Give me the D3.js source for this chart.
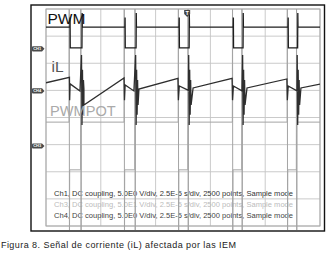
<!DOCTYPE html>
<html>
<head>
<meta charset="utf-8">
<script src="https://cdn.jsdelivr.net/npm/d3@7"></script>
<style>
  body { margin: 0; background: #fff; }
  svg { display: block; font-family: "Liberation Sans", Arial, sans-serif; }
  svg text { -webkit-font-smoothing: antialiased; }
</style>
</head>
<body>
<div id="chart"></div>
<script>
// time in microseconds (2.5E-5 s/div, 5 divisions on screen)
const timeTicks = [0, 25, 50, 75, 100, 125];
// vertical divisions from screen centre
const divTicks = [-4, -3, -2, -1, 0, 1, 2, 3, 4];

// channel: marker label, ground offset (div), volts per division
const chLabels = ["CH1", "CH4", "CH3"];
const chOffsets = [2.53, 0.98, -1.05];
const chVdiv = [5, 5, 50];

// Ch1 - PWM gate signal
const pwmFallT = [10.9, 36.0, 60.7, 85.4, 110.4];
const pwmRiseT = [16.4, 41.1, 65.3, 89.9, 114.8];
const pwmLevels = [0.2, 4.0];          // low, high (V)
const pwmOvershoot = [5.8, 6.6];       // at falling, rising edge (V)

// Ch3 - PWMPOT edges (slightly ahead of Ch1)
const potFallT = [10.5, 35.6, 60.3, 85.0, 110.0];
const potRiseT = [15.8, 40.5, 64.7, 89.3, 114.2];
const potLevels = [-44, 44];
const potSpikes = [300, -200];

// Ch4 - inductor current iL (V on probe)
const iLPoints = [
  [0, 1.5], [10.7, 2.5], [10.8, -1.7], [11.0, 1.3], [15.5, 0.0],
  [17.3, 0.35], [35.6, 2.4], [35.8, -1.7], [36.1, 1.1], [40.1, 0.0],
  [42.4, 0.35], [60.2, 2.3], [60.4, -1.7], [60.8, 0.9], [65.0, 0.1],
  [67.1, 0.55], [84.9, 2.3], [85.1, -1.7], [85.5, 0.9], [89.4, 0.0],
  [91.7, 0.55], [109.9, 2.2], [110.1, -1.7], [110.5, 0.9], [114.5, 0.0],
  [116.3, 0.55], [125, 1.25]
];
const iLRing = [6.6, -6.3, 3.9, -4.4, 2.0, -2.6]; // ringing after each turn-on (V)

const legendLines = [
  "Ch1, DC coupling, 5.0E0 V/div, 2.5E-5 s/div, 2500 points, Sample mode",
  "Ch3, DC coupling, 5.0E1 V/div, 2.5E-5 s/div, 2500 points, Sample mode",
  "Ch4, DC coupling, 5.0E0 V/div, 2.5E-5 s/div, 2500 points, Sample mode"
];
const legendColors = ["#333", "#bbb", "#444"];
const caption = "Figura 8. Señal de corriente (iL) afectada por las IEM";

const W = 332, H = 253;
const frame = { x0: 31, y0: 5, x1: 324.5, y1: 231 };
const plot = { x0: 46, y0: 9, x1: 320, y1: 226 };

const svg = d3.select("#chart").append("svg")
  .attr("width", W).attr("height", H)
  .attr("viewBox", `0 0 ${W} ${H}`);

const x = d3.scaleLinear().domain([0, 125]).range([plot.x0, plot.x1]);
const y = d3.scaleLinear().domain([-4, 4]).range([plot.y1, plot.y0]);

// volts on a channel -> screen y
const yv = (ch, v) => y(chOffsets[ch] + v / chVdiv[ch]);

// outer frame
svg.append("rect")
  .attr("x", frame.x0).attr("y", frame.y0)
  .attr("width", frame.x1 - frame.x0).attr("height", frame.y1 - frame.y0)
  .attr("fill", "#fff").attr("stroke", "#111").attr("stroke-width", 1.4);

// grid
const grid = svg.append("g").attr("stroke", "#c4c4c4").attr("stroke-width", 0.9);
grid.selectAll(".vx").data(timeTicks).enter().append("line")
  .attr("x1", d => x(d)).attr("x2", d => x(d))
  .attr("y1", plot.y0).attr("y2", plot.y1);
grid.selectAll(".hy").data(divTicks).enter().append("line")
  .attr("x1", plot.x0).attr("x2", plot.x1)
  .attr("y1", d => y(d)).attr("y2", d => y(d));
svg.append("rect")
  .attr("x", plot.x0).attr("y", plot.y0)
  .attr("width", plot.x1 - plot.x0).attr("height", plot.y1 - plot.y0)
  .attr("fill", "none").attr("stroke", "#a8a8a8").attr("stroke-width", 1);

// legend text inside the screen
svg.append("g").selectAll("text").data(legendLines).enter().append("text")
  .attr("x", 54).attr("y", (d, i) => [196, 207, 218][i])
  .attr("font-size", 7.6)
  .attr("textLength", 239).attr("lengthAdjust", "spacingAndGlyphs")
  .attr("fill", (d, i) => legendColors[i])
  .text(d => d);

// clipping
const defs = svg.append("defs");
defs.append("clipPath").attr("id", "clipA").append("rect")
  .attr("x", plot.x0).attr("y", plot.y0)
  .attr("width", plot.x1 - plot.x0).attr("height", plot.y1 - plot.y0);
defs.append("clipPath").attr("id", "clipB").append("rect")
  .attr("x", plot.x0).attr("y", plot.y0)
  .attr("width", plot.x1 - plot.x0).attr("height", frame.y1 - 1 - plot.y0);

// square wave with an edge spike (or spike pair) at every switching edge
function squareTrace(fallT, riseT, levels, fallPeaks, risePeaks, dt) {
  const pts = [[0, levels[1]]];
  fallT.forEach((tf, i) => {
    const tr = riseT[i];
    pts.push([tf, levels[1]]);
    fallPeaks.forEach((p, k) => pts.push([tf + (k + 1) * dt, p]));
    pts.push([tf + (fallPeaks.length + 1) * dt, levels[0]]);
    pts.push([tr, levels[0]]);
    risePeaks.forEach((p, k) => pts.push([tr + (k + 1) * dt, p]));
    pts.push([tr + (risePeaks.length + 1) * dt, levels[1]]);
  });
  pts.push([125, levels[1]]);
  return pts;
}

const pwmPts = squareTrace(pwmFallT, pwmRiseT, pwmLevels,
  [pwmOvershoot[0]], [pwmOvershoot[1]], 0.08);
const potPts = squareTrace(potFallT, potRiseT, potLevels, potSpikes, potSpikes, 0.1);

const iLPts = iLPoints.slice();
pwmRiseT.forEach(tr => {
  iLRing.forEach((v, k) => iLPts.push([tr - 0.2 + k * 0.22, v]));
});
iLPts.sort((a, b) => a[0] - b[0]);

const line = ch => d3.line().x(d => x(d[0])).y(d => yv(ch, d[1]));

// Ch3 PWMPOT (light grey)
svg.append("path")
  .datum(potPts)
  .attr("clip-path", "url(#clipB)")
  .attr("d", line(2))
  .attr("fill", "none").attr("stroke", "#a4a4a4").attr("stroke-width", 1);

// Ch4 iL
svg.append("path")
  .datum(iLPts)
  .attr("clip-path", "url(#clipA)")
  .attr("d", line(1))
  .attr("fill", "none").attr("stroke", "#2e2e2e").attr("stroke-width", 1.3);

// Ch1 PWM
svg.append("path")
  .datum(pwmPts)
  .attr("clip-path", "url(#clipA)")
  .attr("d", line(0))
  .attr("fill", "none").attr("stroke", "#1e1e1e").attr("stroke-width", 1.3);

// channel ground markers
const markers = svg.append("g").selectAll("g").data(chLabels).enter().append("g")
  .attr("transform", (d, i) => `translate(32,${yv(i, 0)})`);
markers.append("path")
  .attr("d", "M1,-2.6 H10 L12.5,0 L10,2.6 H1 Q0,2.6 0,1.6 V-1.6 Q0,-2.6 1,-2.6 Z")
  .attr("fill", "#4a4a4a");
markers.append("text")
  .attr("x", 5.2).attr("y", 1.5)
  .attr("text-anchor", "middle")
  .attr("font-size", 4).attr("font-weight", "bold")
  .attr("fill", "#fff")
  .text(d => d);

// trigger marker
const trig = svg.append("g").attr("transform", `translate(${x(64.4)},10)`);
trig.append("path")
  .attr("d", "M-3,0 H3 V4 L0,7 L-3,4 Z")
  .attr("fill", "#444");
trig.append("text")
  .attr("x", 0).attr("y", 4.8).attr("text-anchor", "middle")
  .attr("font-size", 5.5).attr("font-weight", "bold").attr("fill", "#fff")
  .text("T");

// channel names on screen
svg.append("text").attr("x", 47.5).attr("y", 24).attr("font-size", 15.5)
  .attr("fill", "#111").text("PWM");
svg.append("text").attr("x", 51.5).attr("y", 72).attr("font-size", 15.5)
  .attr("fill", "#555").text("iL");
svg.append("text").attr("x", 50).attr("y", 115.5).attr("font-size", 14.6)
  .attr("fill", "#aaa").text("PWMPOT");

// caption
svg.append("text")
  .attr("x", 1).attr("y", 247.5)
  .attr("font-size", 9)
  .attr("textLength", 235).attr("lengthAdjust", "spacing")
  .attr("fill", "#222")
  .text(caption);
</script>
</body>
</html>
